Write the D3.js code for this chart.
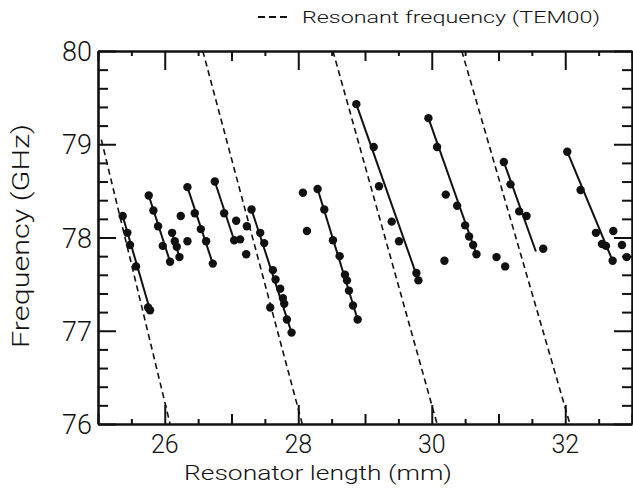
<!DOCTYPE html>
<html>
<head>
<meta charset="utf-8">
<script src="https://cdn.jsdelivr.net/npm/d3@7/dist/d3.min.js"></script>
<style>
  html, body { margin: 0; padding: 0; background: #fff; }
  svg { display: block; }
  text { font-family: "Roboto", "DejaVu Sans", sans-serif; font-weight: 300; fill: #111; }
</style>
</head>
<body>
<svg id="chart" width="633" height="495"></svg>
<script>
// ---------- data ----------
const xDomain = [25, 33];
const yDomain = [76, 80];
const xTickLabels = [26, 28, 30, 32];
const yTickLabels = [76, 77, 78, 79, 80];

// measured points, grouped by the branch they belong to: [length mm, frequency GHz]
const branchA = [[25.37, 78.23], [25.44, 78.05], [25.48, 77.92], [25.57, 77.69], [25.75, 77.25], [25.78, 77.22]];
const branchB = [[25.76, 78.45], [25.83, 78.29], [25.90, 78.12], [25.97, 77.91], [26.08, 77.74]];
const branchC = [[26.11, 78.05], [26.15, 77.96], [26.18, 77.90], [26.22, 77.79]];
const branchD = [[26.34, 78.54], [26.45, 78.26], [26.54, 78.09], [26.62, 77.96], [26.72, 77.72]];
const branchE = [[26.75, 78.60], [26.89, 78.26], [27.04, 77.97]];
const branchF = [[27.30, 78.30], [27.43, 78.05], [27.49, 77.94], [27.62, 77.65], [27.66, 77.55], [27.73, 77.45], [27.77, 77.35], [27.79, 77.29], [27.83, 77.12], [27.90, 76.98]];
const branchG = [[28.29, 78.52], [28.39, 78.30], [28.52, 77.97], [28.62, 77.80], [28.70, 77.60], [28.73, 77.54], [28.76, 77.43], [28.82, 77.27], [28.89, 77.12]];
const branchH = [[28.87, 79.43], [29.13, 78.97], [29.21, 78.55], [29.40, 78.17], [29.51, 77.96], [29.77, 77.62], [29.80, 77.54]];
const branchI = [[29.95, 79.28], [30.08, 78.97], [30.21, 78.46], [30.38, 78.34], [30.50, 78.13], [30.56, 78.01], [30.62, 77.92], [30.67, 77.82]];
const branchJ = [[31.08, 78.81], [31.18, 78.57], [31.31, 78.28], [31.42, 78.23]];
const branchK = [[32.03, 78.92], [32.23, 78.51], [32.46, 78.05], [32.55, 77.93], [32.61, 77.91], [32.71, 77.75]];
// points not on a fitted branch line
const loosePoints = [[26.24, 78.23], [26.34, 77.96], [27.13, 77.98], [27.07, 78.18], [27.23, 78.12], [27.22, 77.82],
                     [27.58, 77.25], [28.07, 78.48], [28.13, 78.07], [30.19, 77.75], [30.97, 77.79], [31.10, 77.69],
                     [31.67, 77.88], [32.72, 78.07], [32.85, 77.92], [32.92, 77.79]];
// solid fitted lines: [x1, y1, x2, y2]
const fitLines = [[25.37, 78.23, 25.78, 77.22], [25.76, 78.45, 26.08, 77.74], [26.11, 78.05, 26.22, 77.79],
                  [26.34, 78.54, 26.72, 77.72], [26.75, 78.60, 27.04, 77.97], [27.30, 78.30, 27.90, 76.98],
                  [28.29, 78.52, 28.89, 77.12], [28.87, 79.43, 29.80, 77.54], [29.95, 79.28, 30.67, 77.82],
                  [31.08, 78.81, 31.56, 77.85], [32.03, 78.92, 32.71, 77.75]];
// dashed resonant-frequency (TEM00) lines: [x1, y1, x2, y2]
const resonantLines = [[25.05, 79.05, 26.08, 76.00], [26.57, 80.00, 28.06, 76.00],
                       [28.52, 80.00, 30.08, 76.00], [30.45, 80.00, 32.07, 76.00]];

const xTitle = "Resonator length (mm)";
const yTitle = "Frequency (GHz)";
const legendLabel = "Resonant frequency (TEM00)";

// ---------- drawing ----------
const svg = d3.select("#chart");
const L = 98, R = 632, T = 51, B = 424;
const x = d3.scaleLinear().domain(xDomain).range([L, R]);
const y = d3.scaleLinear().domain(yDomain).range([B, T]);

svg.append("clipPath").attr("id", "clip").append("rect")
  .attr("x", L).attr("y", T).attr("width", R - L).attr("height", B - T);
const plot = svg.append("g").attr("clip-path", "url(#clip)");

plot.selectAll("line.res").data(resonantLines).join("line")
  .attr("class", "res")
  .attr("x1", d => x(d[0])).attr("y1", d => y(d[1]))
  .attr("x2", d => x(d[2])).attr("y2", d => y(d[3]))
  .attr("stroke", "#111").attr("stroke-width", 1.6)
  .attr("stroke-dasharray", "6,4");

plot.selectAll("line.fit").data(fitLines).join("line")
  .attr("class", "fit")
  .attr("x1", d => x(d[0])).attr("y1", d => y(d[1]))
  .attr("x2", d => x(d[2])).attr("y2", d => y(d[3]))
  .attr("stroke", "#111").attr("stroke-width", 2);

const allPoints = [].concat(branchA, branchB, branchC, branchD, branchE, branchF,
                            branchG, branchH, branchI, branchJ, branchK, loosePoints);
plot.selectAll("circle").data(allPoints).join("circle")
  .attr("cx", d => x(d[0])).attr("cy", d => y(d[1]))
  .attr("r", 4.2).attr("fill", "#111");

// axes: ticks pointing inward on all four sides
function styleAxis(g) {
  g.select(".domain").attr("stroke", "#111").attr("stroke-width", 2.6);
  g.selectAll(".tick line").attr("stroke", "#111").attr("stroke-width", 2);
  g.selectAll(".tick text").remove();
}
const xMajor = d3.range(26, 33, 2);
const xMid = d3.range(25, 34, 2);
const xMinor = d3.range(25.5, 33, 1);
const yMajor = d3.range(76, 81, 1);
const yMinor = d3.range(76.2, 80, 0.2).filter(v => Math.abs(v - Math.round(v)) > 0.05);

[["bottom", B, d3.axisTop], ["top", T, d3.axisBottom]].forEach(([name, py, ax]) => {
  [[xMajor, 19], [xMid, 10], [xMinor, 5]].forEach(([vals, len], i) => {
    const g = svg.append("g").attr("transform", `translate(0,${py})`)
      .call(ax(x).tickValues(vals).tickSize(len).tickSizeOuter(0));
    styleAxis(g);
    if (i > 0) g.select(".domain").remove();
  });
});
[["left", L, d3.axisRight], ["right", R, d3.axisLeft]].forEach(([name, px, ax]) => {
  [[yMajor, 18], [yMinor, 10]].forEach(([vals, len], i) => {
    const g = svg.append("g").attr("transform", `translate(${px},0)`)
      .call(ax(y).tickValues(vals).tickSize(len).tickSizeOuter(0));
    styleAxis(g);
    if (i > 0) g.select(".domain").remove();
  });
});

// tick labels
svg.selectAll("text.xl").data(xTickLabels).join("text")
  .attr("class", "xl")
  .attr("x", d => x(d)).attr("y", 453)
  .attr("text-anchor", "middle").attr("font-size", 25)
  .text(d => d);
svg.selectAll("text.yl").data(yTickLabels).join("text")
  .attr("class", "yl")
  .attr("x", 92).attr("y", d => y(d) + 10)
  .attr("text-anchor", "end").attr("font-size", 27)
  .text(d => d);

// axis titles
svg.append("text")
  .attr("x", 318).attr("y", 480)
  .attr("text-anchor", "middle").attr("font-size", 21)
  .attr("textLength", 268).attr("lengthAdjust", "spacingAndGlyphs")
  .text(xTitle);
svg.append("text")
  .attr("transform", "translate(29,236) rotate(-90)")
  .attr("text-anchor", "middle").attr("font-size", 24)
  .attr("textLength", 224).attr("lengthAdjust", "spacingAndGlyphs")
  .text(yTitle);

// legend
svg.append("line")
  .attr("x1", 258).attr("x2", 290).attr("y1", 17).attr("y2", 17)
  .attr("stroke", "#111").attr("stroke-width", 1.8)
  .attr("stroke-dasharray", "7,4");
svg.append("text")
  .attr("x", 302).attr("y", 23)
  .attr("font-size", 17)
  .attr("textLength", 298).attr("lengthAdjust", "spacingAndGlyphs")
  .text(legendLabel);
</script>
</body>
</html>
